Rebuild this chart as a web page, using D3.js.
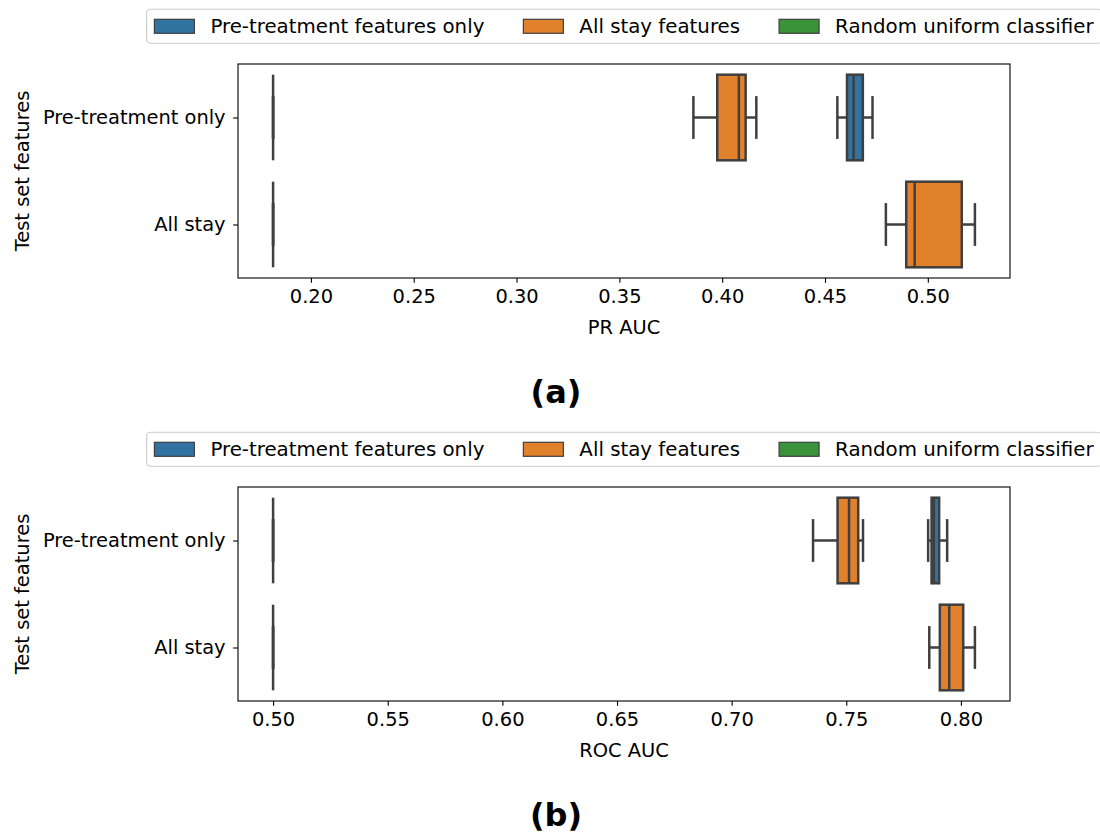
<!DOCTYPE html>
<html><head><meta charset="utf-8">
<script src="https://cdn.jsdelivr.net/npm/d3@7"></script>
<style>
body{margin:0;background:#fff}
svg{display:block}
text{font-family:"DejaVu Sans",sans-serif;fill:#000}
</style>
</head><body><svg id="c" width="1100" height="836"></svg>
<script>
// ---------------- data ----------------
const categories = ["Pre-treatment only", "All stay"];
const seriesNames = ["Pre-treatment features only", "All stay features", "Random uniform classifier"];
const seriesColors = ["#3274a1", "#e1812c", "#3a923a"];
// box stats per category: [low whisker, q1, median, q3, high whisker]; null = no box
const prPreOnly = [[0.456, 0.4607, 0.4639, 0.4684, 0.4731], null];
const prAllStay = [[0.386, 0.3976, 0.4081, 0.4114, 0.4166], [0.4796, 0.4895, 0.4936, 0.5165, 0.5229]];
const prRandom  = [[0.1816, 0.1816, 0.1816, 0.1816, 0.1816], [0.1816, 0.1816, 0.1816, 0.1816, 0.1816]];
const rocPreOnly = [[0.7857, 0.7872, 0.7882, 0.7905, 0.7940], null];
const rocAllStay = [[0.7355, 0.7462, 0.7512, 0.7552, 0.7573], [0.7862, 0.7908, 0.7949, 0.8010, 0.8061]];
const rocRandom  = [[0.5, 0.5, 0.5, 0.5, 0.5], [0.5, 0.5, 0.5, 0.5, 0.5]];
const prTicks  = [0.20, 0.25, 0.30, 0.35, 0.40, 0.45, 0.50];
const rocTicks = [0.50, 0.55, 0.60, 0.65, 0.70, 0.75, 0.80];
const yTitle = "Test set features";

const panels = [
  {tag: "(a)", xTitle: "PR AUC",  series: [prPreOnly, prAllStay, prRandom],   ticks: prTicks,  off: 0},
  {tag: "(b)", xTitle: "ROC AUC", series: [rocPreOnly, rocAllStay, rocRandom], ticks: rocTicks, off: 423}
];

// ---------------- layout ----------------
const FS = 19.44, LFS = 19.8;
const L = 238, R = 1010, T0 = 64, H = 214;
const GRAY = "#3f3f3f";
const svg = d3.select("#c");

panels.forEach(p => {
  const top = T0 + p.off, bottom = top + H;
  const g = svg.append("g");
  const all = p.series.flat().filter(d => d).flat();
  const mn = d3.min(all), mx = d3.max(all), m = (mx - mn) * 0.05;
  const x = d3.scaleLinear().domain([mn - m, mx + m]).range([L, R]);
  const y = d3.scaleLinear().domain([-0.5, 1.5]).range([top, bottom]);
  const bw = y(0.8) - y(0);

  // boxes
  const boxes = g.append("g");
  categories.forEach((c, ci) => {
    p.series.forEach((s, si) => {
      const st = s[ci];
      if (!st) return;
      const cy = y(ci);
      const bg = boxes.append("g").attr("stroke", GRAY).attr("stroke-width", 2.5).attr("fill", "none");
      bg.append("line").attr("x1", x(st[0])).attr("x2", x(st[1])).attr("y1", cy).attr("y2", cy);
      bg.append("line").attr("x1", x(st[3])).attr("x2", x(st[4])).attr("y1", cy).attr("y2", cy);
      [st[0], st[4]].forEach(v => bg.append("line").attr("x1", x(v)).attr("x2", x(v))
        .attr("y1", cy - bw / 4).attr("y2", cy + bw / 4));
      bg.append("rect").attr("x", x(st[1])).attr("y", cy - bw / 2)
        .attr("width", Math.max(0, x(st[3]) - x(st[1]))).attr("height", bw)
        .attr("fill", seriesColors[si]);
      bg.append("line").attr("x1", x(st[2])).attr("x2", x(st[2]))
        .attr("y1", cy - bw / 2).attr("y2", cy + bw / 2);
    });
  });

  // frame
  g.append("rect").attr("x", L).attr("y", top).attr("width", R - L).attr("height", H)
    .attr("fill", "none").attr("stroke", "#000").attr("stroke-width", 1.1);

  // x axis
  const xa = g.append("g").attr("transform", `translate(0,${bottom})`)
    .call(d3.axisBottom(x).tickValues(p.ticks).tickFormat(d3.format(".2f")).tickSize(4.86).tickPadding(6.5));
  xa.select(".domain").remove();
  xa.selectAll("line").attr("stroke", "#000").attr("stroke-width", 1.1);
  xa.selectAll("text").attr("font-size", FS).attr("font-family", "DejaVu Sans").attr("fill", "#000");

  // y axis
  const ya = g.append("g").attr("transform", `translate(${L},0)`)
    .call(d3.axisLeft(d3.scaleOrdinal().domain(categories).range(categories.map((c, i) => y(i))))
      .tickSize(4.86).tickPadding(7.5));
  ya.select(".domain").remove();
  ya.selectAll("line").attr("stroke", "#000").attr("stroke-width", 1.1);
  ya.selectAll("text").attr("font-size", FS).attr("font-family", "DejaVu Sans").attr("fill", "#000");

  // titles
  g.append("text").attr("x", (L + R) / 2).attr("y", bottom + 56).attr("text-anchor", "middle")
    .attr("font-size", FS).text(p.xTitle);
  g.append("text").attr("transform", `translate(29,${(top + bottom) / 2}) rotate(-90)`)
    .attr("text-anchor", "middle").attr("font-size", FS).text(yTitle);
  g.append("text").attr("x", 556).attr("y", 339 + top).attr("text-anchor", "middle")
    .attr("font-size", 32).attr("font-weight", "bold").text(p.tag);

  // legend
  const lg = g.append("g");
  const frame = lg.append("rect");
  const items = lg.append("g");
  let cx = 0;
  seriesNames.forEach((n, i) => {
    const it = items.append("g");
    it.append("rect").attr("x", cx).attr("y", -7).attr("width", 40).attr("height", 14)
      .attr("fill", seriesColors[i]).attr("stroke", GRAY).attr("stroke-width", 1.2);
    const t = it.append("text").attr("x", cx + 56).attr("y", 7).attr("font-size", LFS).text(n);
    const w = t.node().getComputedTextLength();
    cx += 56 + w + 39;
  });
  const contentW = cx - 39;
  const pad = 7.8;
  const lw = contentW + 2 * pad;
  const lx = (L + R) / 2 - lw / 2;
  const ly = top - 54.7, lh = 34;
  frame.attr("x", lx).attr("y", ly).attr("width", lw).attr("height", lh).attr("rx", 4)
    .attr("fill", "#fff").attr("fill-opacity", 0.8).attr("stroke", "#cccccc").attr("stroke-width", 1.1);
  items.attr("transform", `translate(${lx + pad},${ly + lh / 2})`);
});
</script>
</body></html>
